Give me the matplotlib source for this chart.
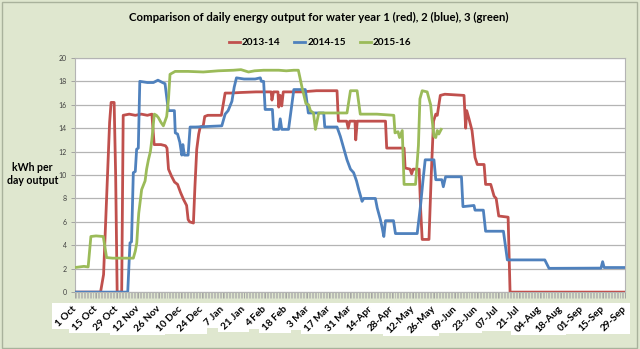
import matplotlib
matplotlib.use("Agg")
import matplotlib.pyplot as plt
from matplotlib.patches import Rectangle
from matplotlib.ticker import MultipleLocator

plt.rcParams['font.family'] = ['Lato', 'DejaVu Sans']

# Daily output (kWh) sampled at the days where each curve changes
red_days = [0, 17, 19, 21, 23, 24, 26, 27, 28, 31, 32, 36, 40, 44, 48, 51, 52.5, 57, 60, 61, 62, 64,
            66, 68, 70, 72, 74, 75, 76, 78.5, 79.5, 80.7, 82, 83, 85, 86, 88, 97, 99.5, 103, 110, 120,
            130, 130.5, 131.5, 134.5, 135, 136, 137, 138, 150, 160, 173.6, 174.5, 180, 181, 182, 185.5,
            186, 187, 195, 205.7, 206.5, 218, 218.7, 222, 223, 224, 228, 229, 230, 234.5, 236, 237.5,
            239, 240, 242, 245, 257.7, 258.8, 259.5, 261, 263, 265, 266.5, 271, 272, 275.4, 277.6, 279,
            280.7, 286.9, 288.2, 364]
red_vals = [0, 0, 1.5, 8, 14.5, 16.2, 16.2, 10, 0, 0, 15.1, 15.2, 15.1, 15.2, 15.1, 15.2, 12.6, 12.6,
            12.5, 12.3, 10.5, 9.9, 9.4, 9.2, 8.5, 7.9, 7.4, 6.2, 6.0, 5.9, 9, 12.2, 13.5, 14.1, 14.2,
            15.0, 15.1, 15.1, 17.0, 17.0, 17.05, 17.1, 17.1, 16.4, 17.1, 17.1, 15.8, 16.8, 15.9, 17.1,
            17.1, 17.2, 17.2, 14.6, 14.6, 14.0, 14.6, 14.6, 13.0, 14.6, 14.6, 14.6, 12.3, 12.3, 10.6,
            10.5, 10.1, 10.5, 10.5, 7, 4.5, 4.5, 10, 14.6, 15.2, 15.1, 16.8, 16.9, 16.8, 14.0, 15.5,
            14.8, 13.8, 11.5, 10.9, 10.9, 9.2, 9.2, 8.2, 8.0, 6.5, 6.4, 0, 0]

blue_days = [0, 35, 36.5, 37.5, 38.7, 40, 40.9, 42, 43, 48, 52, 55, 58, 59.7, 61.9, 65.9, 66.5, 68,
             69.5, 70.8, 71.5, 72.5, 75, 76.3, 80, 97.3, 99.5, 101.5, 104, 105.5, 107, 112, 119.4,
             122.8, 123.5, 125, 126, 130.8, 131.6, 135, 136, 137, 141.5, 145, 147, 152.6, 154.6, 164.8,
             165.5, 173.6, 175.8, 178, 180.2, 182.5, 184.6, 186.5, 188, 190.2, 191.3, 199, 200.2, 202.3,
             203.5, 204.6, 205.7, 211, 212.3, 226.7, 229, 230.5, 232, 237.8, 239, 243, 244, 245.5, 256,
             257, 264.3, 265, 270.5, 272, 283.8, 286.4, 311.2, 314, 348.4, 349.5, 350.5, 364]
blue_vals = [0, 0, 4.2, 4.3, 10.2, 10.3, 12.2, 12.3, 18.0, 17.9, 17.9, 18.1, 17.9, 17.8, 15.5, 15.5,
             13.6, 13.5, 12.8, 11.7, 12.6, 11.7, 11.7, 14.1, 14.1, 14.2, 15.2, 15.5, 16.3, 17.5, 18.3,
             18.2, 18.2, 18.3, 18.0, 18.0, 15.6, 15.6, 13.9, 13.9, 14.8, 13.9, 13.9, 17.3, 17.3, 17.3,
             15.3, 15.3, 14.1, 14.1, 13.3, 12.3, 11.3, 10.5, 10.2, 9.5, 8.75, 7.75, 8.0, 8.0, 7.2, 6.2,
             5.5, 4.75, 6.1, 6.1, 5.0, 5.0, 7.5, 9.5, 11.3, 11.3, 9.6, 9.6, 9.0, 9.85, 9.85, 7.3, 7.4,
             7.0, 7.0, 5.2, 5.2, 2.75, 2.75, 2.03, 2.05, 2.6, 2.1, 2.1]

green_days = [0, 3, 6, 8.8, 10.6, 14, 18.8, 21, 25, 30, 38.7, 40, 41, 41.6, 42.3, 43.5, 44.2, 46.5,
              47.5, 48.7, 50, 51, 52.6, 54, 55.3, 57, 58.6, 60.8, 62, 63, 66.4, 75, 85, 95, 105, 110,
              115, 119, 125, 135, 140, 145, 148, 150.4, 153, 154.8, 156, 158, 159.3, 161.5, 170, 180.2,
              182.5, 186.9, 189, 200, 211.2, 212, 214, 215, 216.8, 218, 225.6, 227.5, 228.5, 230, 233.3,
              235.6, 236.5, 237.8, 239, 240, 241, 242.6]
green_vals = [2.1, 2.15, 2.2, 2.15, 4.75, 4.8, 4.75, 2.95, 2.9, 2.9, 2.9, 3.5, 4.2, 5.5, 6.75, 8.0,
              8.75, 9.5, 10.5, 11.3, 12.0, 13.05, 15.2, 15.1, 14.9, 14.5, 14.2, 15.0, 16.5, 18.6, 18.85,
              18.85, 18.8, 18.9, 18.95, 19.0, 18.8, 18.9, 18.95, 18.95, 18.9, 18.95, 18.95, 17.5, 16.1,
              16.0, 15.5, 15.3, 13.9, 15.3, 15.3, 15.3, 17.2, 17.2, 15.2, 15.2, 15.1, 13.6, 13.7, 13.2,
              13.8, 9.2, 9.2, 12.5, 16.5, 17.2, 17.1, 16.0, 14.8, 13.3, 13.2, 13.8, 13.5, 13.9]

tick_labels = ['1 Oct', '15 Oct', '29 Oct', '12 Nov', '26 Nov', '10 Dec', '24 Dec', '7 Jan',
               '21 Jan', '4 Feb', '18 Feb', '3 Mar', '17 Mar', '31 Mar', '14-Apr', '28-Apr',
               '12-May', '26-May', '09-Jun', '23-Jun', '07-Jul', '21-Jul', '04-Aug', '18-Aug',
               '01-Sep', '15-Sep', '29-Sep']
series_names = ['2013-14', '2014-15', '2015-16']

BG = '#dfe7cf'
fig = plt.figure(figsize=(6.4, 3.49), dpi=100, facecolor=BG)
ax = fig.add_axes([0.117, 0.163, 0.860, 0.671])
ax.set_facecolor('white')

ax.plot(red_days, red_vals, color='#c0504d', lw=2.0, label=series_names[0], zorder=3)
ax.plot(blue_days, blue_vals, color='#4f81bd', lw=2.0, label=series_names[1], zorder=4)
ax.plot(green_days, green_vals, color='#9bbb59', lw=2.0, label=series_names[2], zorder=5)

ax.set_xlim(0, 364.5)
ax.set_ylim(0, 20)
ax.yaxis.set_major_locator(MultipleLocator(2))
ax.grid(axis='y', color='#b4b4b4', lw=0.9)
ax.set_axisbelow(True)

ax.set_xticks([14 * i for i in range(len(tick_labels))])
ax.set_xticklabels(tick_labels, rotation=45, ha='right', va='center', rotation_mode='anchor',
                   fontsize=7.2, fontweight='bold', color='black')
ax.xaxis.set_minor_locator(MultipleLocator(1))
ax.tick_params(axis='x', which='major', length=4, color='#999999', width=0.6, pad=7)
ax.tick_params(axis='x', which='minor', length=4, color='#aaaaaa', width=0.5)
ax.tick_params(axis='y', length=3, color='#999999', width=0.6, labelsize=5, labelcolor='#404040', pad=3)
for s in ax.spines.values():
    s.set_color('#b4b4b4')
    s.set_linewidth(0.8)

fig.text(0.051, 0.501, 'kWh per\nday output', ha='center', va='center', fontsize=7.6,
         fontweight='bold', linespacing=1.15)
fig.text(0.498, 0.951, 'Comparison of daily energy output for water year 1 (red), 2 (blue), 3 (green)',
         ha='center', va='center', fontsize=8.2, fontweight='bold')
fig.legend(loc='center', bbox_to_anchor=(0.5, 0.877), ncol=3, frameon=False,
           handlelength=1.1, handletextpad=0.2, columnspacing=1.4,
           prop={'weight': 'bold', 'size': 7.2})

# white boxes behind the rotated date labels
fig.canvas.draw()
r = fig.canvas.get_renderer()
W, H = fig.bbox.width, fig.bbox.height
for lab in ax.get_xticklabels():
    bb = lab.get_window_extent(r)
    fig.patches.append(Rectangle(((bb.x0 - 2) / W, (bb.y0 - 1) / H), (bb.width + 4) / W,
                                 (bb.height + 2) / H, transform=fig.transFigure,
                                 facecolor='white', edgecolor='none', zorder=-1))

fig.patches.append(Rectangle((0.003, 0.004), 0.993, 0.991, transform=fig.transFigure,
                             facecolor='none', edgecolor='#a9b29c', lw=1.0, zorder=10))

fig.savefig('out.png', dpi=100, facecolor=BG)
